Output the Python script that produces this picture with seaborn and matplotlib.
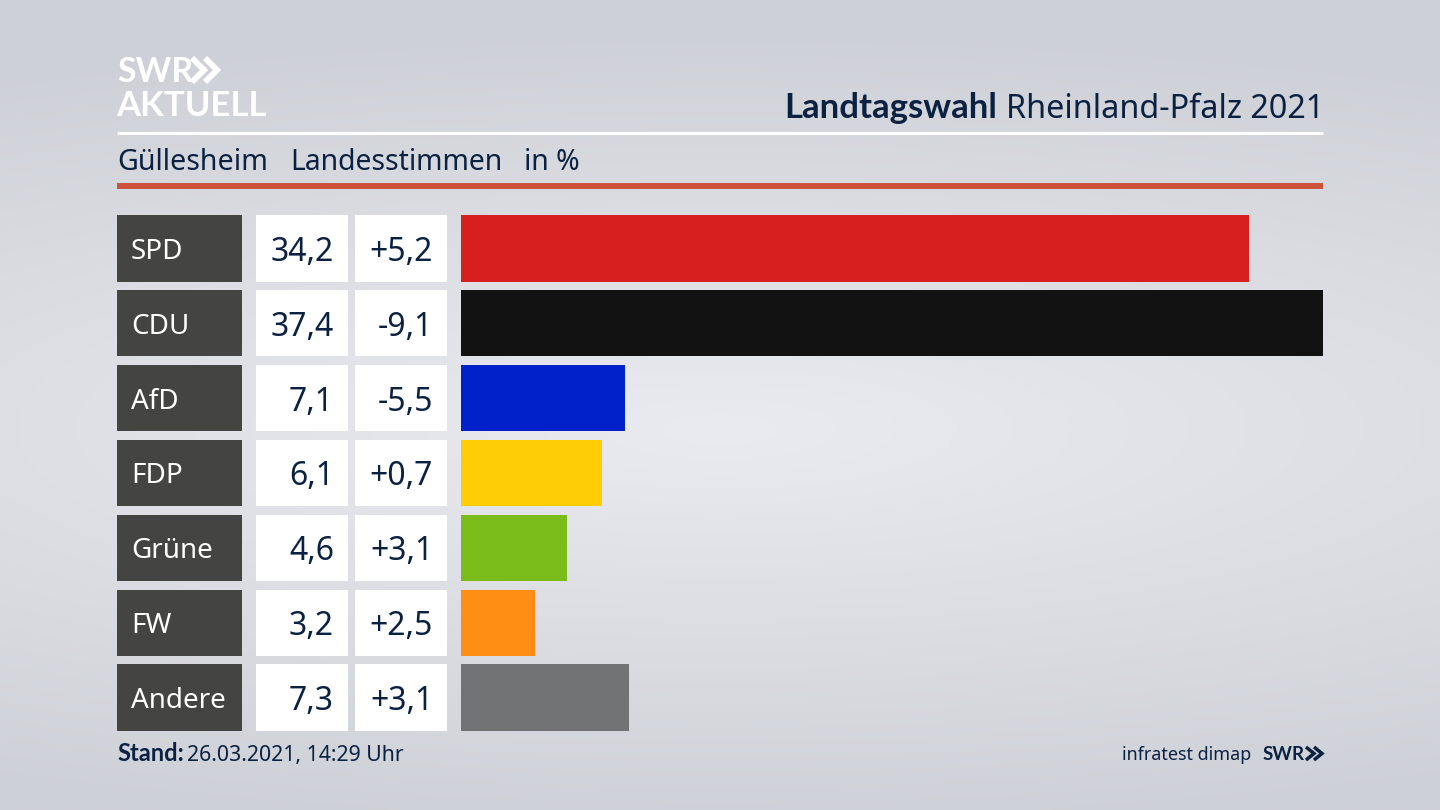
import numpy as np
import pandas as pd
import matplotlib
matplotlib.use('Agg')
import matplotlib.pyplot as plt
import seaborn as sns

# values
parties = ['SPD', 'CDU', 'AfD', 'FDP', 'Grüne', 'FW', 'Andere']
shares = [34.2, 37.4, 7.1, 6.1, 4.6, 3.2, 7.3]
share_labels = ['34,2', '37,4', '7,1', '6,1', '4,6', '3,2', '7,3']
diff_labels = ['+5,2', '-9,1', '-5,5', '+0,7', '+3,1', '+2,5', '+3,1']
colors = ['#d71f1f', '#121212', '#0021c9', '#ffcd06', '#7abd1a', '#ff8f14', '#717274']

W, H = 1440, 810
NAVY = '#0b2142'
TOP, BOTTOM = 215, 731
BOLD = 'Lato'

sns.set_theme(style='white')
plt.rcParams['font.family'] = ['Noto Sans', 'DejaVu Sans']

df = pd.DataFrame({'party': parties, 'share': shares, 'one': [1] * len(parties)})

fig = plt.figure(figsize=(W / 100, H / 100), dpi=100)

# background, light band in the middle, darker to the corners
bg = fig.add_axes([0, 0, 1, 1])
yy, xx = np.mgrid[0:1:162j, 0:1:288j]
dist = np.sqrt(((xx - 0.5) / 1.1) ** 2 + ((yy - 0.53) / 0.5) ** 2)
dist = np.clip(dist, 0, 1)
c0 = np.array([234, 235, 240]) / 255
c1 = np.array([205, 208, 214]) / 255
bg.imshow(c0 + (c1 - c0) * dist[..., None], aspect='auto', interpolation='bilinear',
          extent=[0, W, H, 0])
bg.set_xlim(0, W)
bg.set_ylim(H, 0)
bg.axis('off')


def col_axes(x0, x1):
    return fig.add_axes([x0 / W, 1 - BOTTOM / H, (x1 - x0) / W, (BOTTOM - TOP) / H])


def setup(ax, xmax):
    ax.set_xlim(0, xmax)
    ax.set_ylim(6.444, -0.444)
    ax.axis('off')


# the three table columns and the bars
ax_name = col_axes(117, 241.5)
sns.barplot(df, x='one', y='party', color='#444442', saturation=1, width=0.888,
            linewidth=0, ax=ax_name)
setup(ax_name, 1)

ax_share = col_axes(256, 348)
sns.barplot(df, x='one', y='party', color='white', saturation=1, width=0.888,
            linewidth=0, ax=ax_share)
setup(ax_share, 1)

ax_diff = col_axes(355, 447)
sns.barplot(df, x='one', y='party', color='white', saturation=1, width=0.888,
            linewidth=0, ax=ax_diff)
setup(ax_diff, 1)

ax_bar = col_axes(461, 1323)
sns.barplot(df, x='share', y='party', hue='party', palette=colors, saturation=1,
            width=0.888, linewidth=0, legend=False, ax=ax_bar)
setup(ax_bar, 37.4)

for i, party in enumerate(parties):
    ax_name.text(14 / 125, i, party, color='white', fontsize=20, va='center_baseline')
    ax_share.text(78 / 92, i, share_labels[i], color=NAVY, fontsize=23, ha='right', va='center_baseline')
    ax_diff.text(78 / 92, i, diff_labels[i], color=NAVY, fontsize=23, ha='right', va='center_baseline')

# header, footer and logos in pixel coordinates
bg.plot([117, 1323], [133, 133], color='white', lw=2.2, solid_capstyle='butt')
bg.plot([117, 1323], [186, 186], color='#cd523c', lw=4.3, solid_capstyle='butt')

bg.text(117, 82, 'SWR', color='white', fontsize=24.5, family=BOLD, fontweight='bold', va='baseline')
bg.text(116, 116, 'AKTUELL', color='white', fontsize=25, family=BOLD, fontweight='bold', va='baseline')
for dx in (0, 13):
    bg.plot(np.array([192, 204, 192]) + dx, [58, 70, 82], color='white', lw=4.2,
            solid_joinstyle='miter', solid_capstyle='butt')

bg.text(1324, 118, 'Rheinland-Pfalz 2021', color=NAVY, fontsize=23.3, ha='right', va='baseline')
bg.text(997, 118, 'Landtagswahl', color=NAVY, fontsize=25, family=BOLD, fontweight='bold', ha='right', va='baseline')

bg.text(117, 170, 'Güllesheim', color=NAVY, fontsize=20.6, va='baseline')
bg.text(290, 170, 'Landesstimmen', color=NAVY, fontsize=20.4, va='baseline')
bg.text(524, 170, 'in %', color=NAVY, fontsize=20.4, va='baseline')

bg.text(117, 761, 'Stand:', color=NAVY, fontsize=17, family=BOLD, fontweight='bold', va='baseline')
bg.text(187, 761, '26.03.2021, 14:29 Uhr', color=NAVY, fontsize=15.3, va='baseline')

bg.text(1251, 760, 'infratest dimap', color=NAVY, fontsize=12.9, ha='right', va='baseline')
bg.text(1263, 760, 'SWR', color=NAVY, fontsize=13.5, family=BOLD, fontweight='bold', va='baseline')
for dx in (0, 8):
    bg.plot(np.array([1306, 1314, 1306]) + dx, [747, 753.5, 760], color=NAVY, lw=2.5,
            solid_joinstyle='miter', solid_capstyle='butt')

fig.savefig('out.png', dpi=100)
